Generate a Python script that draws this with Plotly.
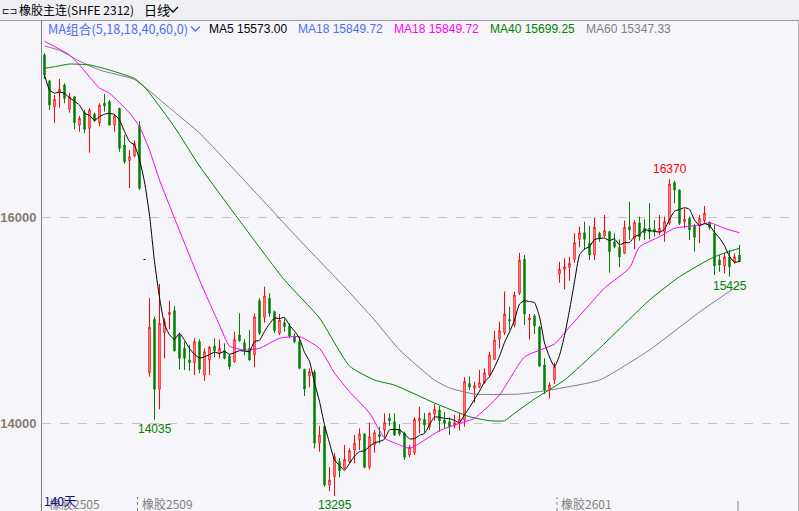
import plotly.graph_objects as go
import pandas as pd

# ---------------- data ----------------
opens = [17576, 17323, 17074, 17213, 17284, 17049, 17171, 16896, 17016, 16864,
         17003, 16918, 17107, 17122, 16896, 17058, 16702, 16550, 16595, 16886,
         15590, 14491, 15010, 14330, 14880, 15054, 15094, 14857, 14728, 14614,
         14588, 14792, 14468, 14614, 14750, 14680, 14705, 14653, 14598, 14857,
         14783, 14728, 14663, 15190, 15029, 15214, 15084, 14874, 14977, 14945,
         14848, 14792, 14524, 14459, 14498, 13806, 13967, 13401, 13481, 13627,
         13563, 13627, 13741, 13838, 13896, 13573, 13789, 13893, 13935, 14049,
         14015, 13942, 13903, 13692, 13715, 14025, 14039, 13967, 14088, 14129,
         14032, 14015, 13974, 14006, 14032, 14385, 14340, 14355, 14394, 14469,
         14621, 14815, 14880, 15007, 14954, 15262, 15592, 15003, 15042, 14932,
         14566, 14333, 14420, 15449, 15495, 15515, 15592, 15786, 15850, 15748,
         15634, 15845, 15818, 15860, 15763, 15709, 15650, 15909, 15796, 15948,
         15893, 15893, 15884, 15860, 15860, 15942, 16336, 16265, 15957, 15990,
         15916, 15925, 15967, 15950, 15850, 15585, 15527, 15617, 15569, 15634]
highs = [17595, 17335, 17187, 17343, 17301, 17210, 17180, 16984, 17042, 17058,
         17016, 17107, 17197, 17139, 17003, 17065, 16799, 16653, 16744, 16935,
         15590, 15214, 15035, 15352, 15019, 15190, 15139, 14874, 14792, 14760,
         14825, 14815, 14728, 14750, 14825, 14815, 14777, 14673, 14889, 15068,
         14815, 14906, 15068, 15214, 15326, 15262, 15094, 15061, 15019, 14971,
         14874, 14841, 14530, 14534, 14518, 13974, 13975, 13575, 13709, 13660,
         13789, 13757, 13886, 13951, 13903, 14007, 13935, 13967, 14097, 14097,
         14097, 13993, 13919, 13789, 14058, 14160, 14100, 14103, 14187, 14168,
         14110, 14058, 14080, 14097, 14447, 14453, 14404, 14518, 14534, 14695,
         14899, 14986, 15278, 15132, 15278, 15656, 15634, 15061, 15061, 14945,
         14631, 14398, 14588, 15568, 15602, 15617, 15845, 15909, 15957, 15916,
         16000, 15860, 16022, 15870, 15845, 15786, 15967, 16151, 15974, 16006,
         15981, 16136, 15974, 16022, 16006, 16370, 16355, 16272, 16087, 16006,
         15935, 16022, 16110, 15960, 15925, 15634, 15656, 15683, 15650, 15731]
lows = [17343, 17042, 16918, 17064, 17107, 17016, 16854, 16831, 16816, 16627,
        16928, 16886, 17025, 16890, 16831, 16637, 16518, 16284, 16583, 16265,
        15590, 14452, 14035, 14136, 14631, 14913, 14695, 14524, 14517, 14510,
        14468, 14485, 14413, 14468, 14641, 14631, 14621, 14524, 14590, 14792,
        14660, 14610, 14544, 14857, 14977, 15035, 14880, 14857, 14889, 14825,
        14777, 14524, 14265, 14349, 13757, 13724, 13382, 13340, 13295, 13476,
        13553, 13612, 13612, 13741, 13563, 13553, 13715, 13806, 13854, 13974,
        13877, 13877, 13644, 13670, 13692, 13903, 13909, 13935, 14025, 13919,
        13951, 13886, 13951, 13929, 13967, 14323, 14200, 14340, 14385, 14452,
        14614, 14728, 14857, 14906, 14932, 15246, 14954, 14815, 14867, 14549,
        14284, 14243, 14381, 15365, 15301, 15384, 15559, 15709, 15683, 15585,
        15585, 15763, 15806, 15462, 15699, 15515, 15644, 15780, 15689, 15773,
        15780, 15786, 15812, 15828, 15763, 15925, 16136, 15925, 15893, 15780,
        15666, 15748, 15942, 15880, 15440, 15472, 15456, 15425, 15547, 15566]
closes = [17382, 17090, 17146, 17243, 17155, 17171, 16918, 16961, 16854, 17042,
          16938, 17090, 17081, 16896, 16984, 16670, 16540, 16588, 16718, 16282,
          15590, 14932, 14330, 14971, 14986, 15078, 14705, 14631, 14631, 14588,
          14792, 14524, 14695, 14737, 14705, 14728, 14631, 14549, 14815, 14802,
          14705, 14614, 15034, 14874, 15236, 15068, 14899, 15003, 14938, 14848,
          14792, 14534, 14333, 14501, 13806, 13886, 13401, 13449, 13676, 13540,
          13650, 13734, 13806, 13896, 13573, 13870, 13909, 13870, 14006, 14025,
          13886, 13896, 13670, 13767, 14039, 14049, 13983, 14097, 14136, 14025,
          14000, 13967, 14006, 14039, 14404, 14352, 14365, 14394, 14491, 14663,
          14809, 14899, 15061, 14996, 15246, 15585, 15061, 15022, 14945, 14556,
          14323, 14372, 14549, 15495, 15520, 15553, 15753, 15850, 15786, 15634,
          15903, 15796, 15870, 15666, 15715, 15617, 15903, 15877, 15948, 15812,
          15850, 15860, 15860, 15893, 15957, 16323, 16265, 15942, 15981, 15877,
          15806, 15990, 16039, 15900, 15527, 15537, 15617, 15520, 15617, 15569]
days = list(range(len(closes)))

ma18_idx = [0, 5, 7, 11, 13, 17, 19, 21, 23, 31, 35, 37, 40, 43, 47, 51, 55, 58, 61, 65,
            68, 71, 73, 75, 79, 83, 86, 91, 96, 102, 105, 110, 112, 117, 119, 123, 126,
            131, 133, 136, 139]
ma18_val = [17709, 17576, 17479, 17255, 17204, 17013, 16880, 16653, 16362, 15391, 14954,
            14750, 14712, 14728, 14825, 14841, 14728, 14488, 14307, 14100, 13857, 13790,
            13757, 13806, 13928, 14000, 14049, 14275, 14644, 14770, 14935, 15207, 15314,
            15508, 15712, 15812, 15893, 15925, 15948, 15893, 15849.72]
ma40_idx = [0, 2, 5, 9, 13, 18, 20, 21, 26, 31, 41, 48, 55, 61, 66, 70, 78, 85, 89, 92,
            94, 98, 104, 111, 121, 127, 134, 139]
ma40_val = [17447, 17462, 17488, 17479, 17430, 17348, 17265, 17207, 16877, 16498, 15838,
            15391, 15022, 14556, 14420, 14371, 14197, 14064, 14025, 14025, 14097, 14236,
            14420, 14728, 15197, 15423, 15617, 15699.25]
ma60_idx = [0, 3, 7, 11, 18, 21, 26, 31, 41, 51, 60, 66, 71, 78, 81, 86, 95, 101, 111,
            121, 131, 139]
ma60_val = [17663, 17621, 17517, 17430, 17338, 17226, 17022, 16818, 16304, 15780, 15323,
            15003, 14712, 14420, 14343, 14284, 14284, 14323, 14420, 14712, 15080, 15347.33]

y_ticks = [14000, 16000]
contract_labels = ["橡胶2505", "橡胶2509", "橡胶2601"]
contract_pos = [-0.5, 18.6, 102.5]
high_marks = [125]
low_marks = [22, 58, 137]
header_title = "橡胶主连(SHFE 2312)"
period_label = "日线"
ma_group_label = "MA组合(5,18,18,40,60,0)"
ma_legend = [("MA5 15573.00", "#000000"), ("MA18 15849.72", "#4F6FEF"),
             ("MA18 15849.72", "#FF00FF"), ("MA40 15699.25", "#008000"),
             ("MA60 15347.33", "#808080")]
day_count_label = "140天"

# ---------------- geometry / style ----------------
W, H = 799, 511
L, T = 42, 20
PW, PH = W - L, H - T
BG = "#F5F5FA"
RED = "#FF0000"
GRN = "#008000"
BLUE = "#4F6FEF"
X0 = -0.5
X1 = X0 + PW / 5.0


def px(x):
    return (x - L) / PW


def py(y):
    return (H - y) / PH


fig = go.Figure()

normal = [i for i in days if opens[i] != closes[i]]
doji = [i for i in days if opens[i] == closes[i]]

fig.add_trace(go.Candlestick(
    x=normal, open=[opens[i] for i in normal], high=[highs[i] for i in normal],
    low=[lows[i] for i in normal], close=[closes[i] for i in normal],
    increasing=dict(line=dict(color=RED, width=1), fillcolor=BG),
    decreasing=dict(line=dict(color=GRN, width=1), fillcolor=GRN),
    whiskerwidth=0, hoverinfo="skip", showlegend=False))
if doji:
    fig.add_trace(go.Candlestick(
        x=doji, open=[opens[i] for i in doji], high=[highs[i] for i in doji],
        low=[lows[i] for i in doji], close=[closes[i] for i in doji],
        increasing=dict(line=dict(color="#000000", width=1), fillcolor="#000000"),
        decreasing=dict(line=dict(color="#000000", width=1), fillcolor="#000000"),
        whiskerwidth=0, hoverinfo="skip", showlegend=False))

ma5 = pd.Series(closes).rolling(5, min_periods=1).mean()

for xs, ys, col in [(ma60_idx, ma60_val, "#808080"), (ma40_idx, ma40_val, GRN),
                    (ma18_idx, ma18_val, "#FF00FF"), (days, list(ma5), "#000000")]:
    fig.add_trace(go.Scatter(x=xs, y=ys, mode="lines",
                             line=dict(color=col, width=1, shape="spline", smoothing=0.5),
                             hoverinfo="skip", showlegend=False))

ann = []
shapes = []

# header bar
shapes.append(dict(type="rect", xref="paper", yref="paper", x0=px(0), x1=px(W),
                   y0=py(20), y1=py(0), fillcolor="#EFEFF4", line=dict(width=0), layer="below"))
shapes.append(dict(type="line", xref="paper", yref="paper", x0=px(0), x1=px(W),
                   y0=py(20.5), y1=py(20.5), line=dict(color="#9A9A9A", width=1)))
shapes.append(dict(type="line", xref="paper", yref="paper", x0=px(798.5), x1=px(798.5),
                   y0=py(20), y1=py(H), line=dict(color="#B0B0B0", width=1)))
cjk = "Noto Sans CJK SC"
ann.append(dict(text="⊏⊐", x=px(0), y=py(10.5), xref="paper", yref="paper", xanchor="left",
                yanchor="middle", showarrow=False, font=dict(family="DejaVu Sans", size=9, color="#000")))
ann.append(dict(text=header_title, x=px(17), y=py(10), xref="paper", yref="paper", xanchor="left",
                yanchor="middle", showarrow=False, font=dict(family=cjk, size=12, color="#000")))
ann.append(dict(text=period_label, x=px(142), y=py(10), xref="paper", yref="paper", xanchor="left",
                yanchor="middle", showarrow=False, font=dict(family=cjk, size=13, color="#000")))
shapes.append(dict(type="path", xref="paper", yref="paper",
                   path="M %f,%f L %f,%f L %f,%f" % (px(168), py(7), px(173), py(12), px(178), py(7)),
                   line=dict(color="#000", width=1.3)))

# MA legend line
ann.append(dict(text=ma_group_label, x=px(46), y=py(28.5), xref="paper", yref="paper",
                xanchor="left", yanchor="middle", showarrow=False,
                font=dict(family=cjk, size=12.7, color=BLUE)))
shapes.append(dict(type="path", xref="paper", yref="paper",
                   path="M %f,%f L %f,%f L %f,%f" % (px(191), py(26.5), px(195.5), py(31), px(200), py(26.5)),
                   line=dict(color=BLUE, width=1.3)))
legend_x = [207, 296, 392, 488, 584]
for (txt, col), lx in zip(ma_legend, legend_x):
    ann.append(dict(text=txt, x=px(lx), y=py(28.5), xref="paper", yref="paper",
                    xanchor="left", yanchor="middle", showarrow=False,
                    font=dict(family="Liberation Sans", size=12, color=col)))

# extreme labels
for i in high_marks:
    ann.append(dict(text=str(highs[i]), x=i, y=highs[i], xref="x", yref="y", xanchor="center",
                    yanchor="bottom", yshift=1, showarrow=False,
                    font=dict(family="Liberation Sans", size=12, color=RED)))
for i in low_marks:
    ann.append(dict(text=str(lows[i]), x=i, y=lows[i], xref="x", yref="y", xanchor="center",
                    yanchor="top", yshift=0, showarrow=False,
                    font=dict(family="Liberation Sans", size=12, color=GRN)))

# bottom contract labels
for lab, pos in zip(contract_labels, contract_pos):
    if pos > 0:
        shapes.append(dict(type="line", xref="x", yref="paper", x0=pos, x1=pos,
                           y0=py(511), y1=py(497), line=dict(color="#808080", width=1, dash="dot")))
    ann.append(dict(text=lab, x=pos, y=py(503), xref="x", yref="paper", xanchor="left",
                    yanchor="middle", xshift=2 if pos > 0 else 5, showarrow=False,
                    font=dict(family=cjk, size=12, color="#808080")))
ann.append(dict(text=day_count_label, x=px(42), y=py(500), xref="paper", yref="paper",
                xanchor="left", yanchor="middle", showarrow=False,
                font=dict(family=cjk, size=12, color="#10108C")))
shapes.append(dict(type="line", xref="x", yref="paper", x0=days[-1] - 0.3, x1=days[-1] - 0.3,
                   y0=py(511), y1=py(501), line=dict(color="#808080", width=1)))

fig.update_layout(
    width=W, height=H, margin=dict(l=L, r=0, t=T, b=0),
    paper_bgcolor=BG, plot_bgcolor=BG, boxgap=0.6, showlegend=False,
    xaxis=dict(range=[X0, X1], visible=False, rangeslider=dict(visible=False),
               fixedrange=True),
    yaxis=dict(range=[13148.5, 17915.6], tickvals=y_ticks, ticktext=[str(v) for v in y_ticks],
               showgrid=True, gridcolor="#C4C4C4", griddash="dash", gridwidth=1,
               zeroline=False, showline=True, linecolor="#808080", linewidth=1,
               ticks="", ticklen=0, ticklabelstandoff=2, fixedrange=True,
               tickfont=dict(family="Liberation Sans", size=13, color="#867D72", weight="bold")),
    annotations=ann, shapes=shapes,
)

fig.write_html("out.html", config={"displayModeBar": False})

# remove the browser's default page margin so the chart sits at (0,0)
with open("out.html", "r", encoding="utf-8") as f:
    html = f.read()
style = "<style>html,body{margin:0;padding:0;overflow:hidden;background:%s;}</style>" % BG
if "<head>" in html:
    html = html.replace("<head>", "<head>" + style, 1)
else:
    html = style + html
with open("out.html", "w", encoding="utf-8") as f:
    f.write(html)
